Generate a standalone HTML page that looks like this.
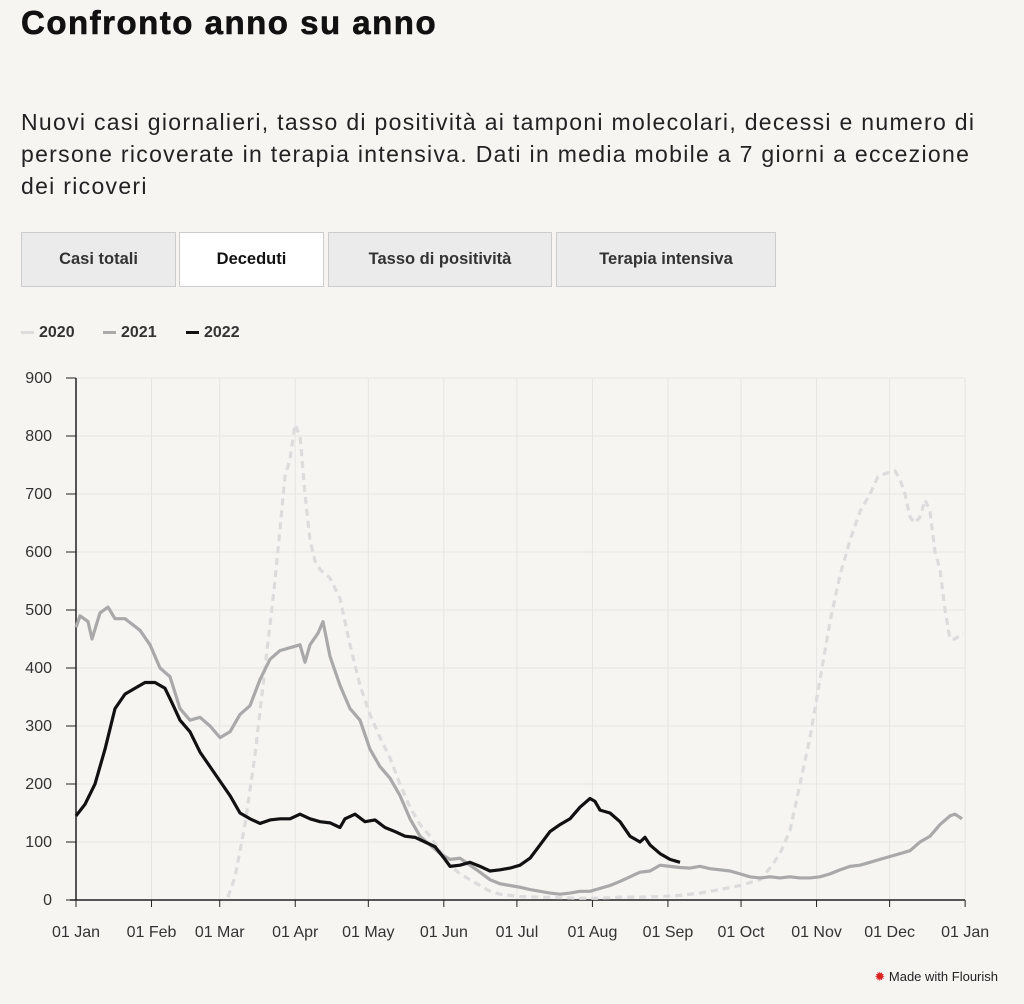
<!DOCTYPE html><html><head><style>
body{margin:0;width:1024px;height:1004px;background:#f6f5f2;font-family:"Liberation Sans",sans-serif;color:#222;overflow:hidden;position:relative}
h1{position:absolute;left:21px;top:4px;margin:0;font-size:33px;font-weight:bold;letter-spacing:1.5px;color:#111;-webkit-text-stroke:0.6px #111}
.sub{position:absolute;left:21px;top:106px;width:1000px;font-size:23px;letter-spacing:1.3px;line-height:32px;color:#222;white-space:nowrap}
.tab{position:absolute;top:232px;height:55px;border:1px solid #ccc;background:#ebebeb;font-size:16.5px;font-weight:bold;color:#333;display:flex;align-items:center;justify-content:center;box-sizing:border-box}
.leg{position:absolute;top:324px;font-size:16px;font-weight:bold;color:#333}
.leg span{display:inline-block;width:13px;height:3px;vertical-align:middle;margin-right:5px}
.mw{position:absolute;right:26px;top:969px;font-size:13px;color:#222}
</style></head><body>
<h1>Confronto anno su anno</h1>
<div class="sub">Nuovi casi giornalieri, tasso di positività ai tamponi molecolari, decessi e numero di<br>persone ricoverate in terapia intensiva. Dati in media mobile a 7 giorni a eccezione<br>dei ricoveri</div>
<div class="tab" style="left:21px;width:155px">Casi totali</div>
<div class="tab" style="left:179px;width:145px;background:#fff;color:#111">Deceduti</div>
<div class="tab" style="left:328px;width:224px">Tasso di positività</div>
<div class="tab" style="left:556px;width:220px">Terapia intensiva</div>
<div class="leg" style="left:21px"><span style="background:#ddd"></span>2020</div>
<div class="leg" style="left:103px"><span style="background:#aaa"></span>2021</div>
<div class="leg" style="left:186px"><span style="background:#111"></span>2022</div>
<svg id="s" width="1024" height="1004" style="position:absolute;left:0;top:0" font-family="Liberation Sans, sans-serif"></svg>
<div class="mw"><span style="color:#d22">✹</span> Made with Flourish</div>
<script>
var s=document.getElementById('s'),h='';
function Y(v){return 900-v*0.58}
for(var i=0;i<=9;i++){var y=Y(i*100);h+='<line x1="76" x2="965" y1="'+y+'" y2="'+y+'" stroke="#e6e5e2"/><line x1="66" x2="76" y1="'+y+'" y2="'+y+'" stroke="#222"/><text x="52" y="'+(y+5)+'" text-anchor="end" font-size="16" fill="#333">'+(i*100)+'</text>';}
var m=['01 Jan','01 Feb','01 Mar','01 Apr','01 May','01 Jun','01 Jul','01 Aug','01 Sep','01 Oct','01 Nov','01 Dec','01 Jan'],d=[0,31,59,90,120,151,181,212,243,273,304,334,365];
for(i=0;i<13;i++){var x=76+d[i]*2.436;h+='<line x1="'+x+'" x2="'+x+'" y1="378" y2="900" stroke="#e6e5e2"/><line x1="'+x+'" x2="'+x+'" y1="900" y2="907" stroke="#222"/><text x="'+x+'" y="937" text-anchor="middle" font-size="16" fill="#333">'+m[i]+'</text>';}
h+='<line x1="76" x2="76" y1="378" y2="900" stroke="#222" stroke-width="1.5"/><line x1="70" x2="965" y1="900" y2="900" stroke="#222" stroke-width="1.5"/>';
function P(a,c,w,da){var p='';for(var k=0;k<a.length;k+=2)p+=(k?'L':'M')+a[k]+' '+Y(a[k+1]);h+='<path d="'+p+'" fill="none" stroke="'+c+'" stroke-width="'+w+'" stroke-linejoin="round"'+(da?' stroke-dasharray="'+da+'"':'')+'/>';}
P([228,5,235,40,245,130,255,250,265,400,275,550,285,730,290,760,295,820,300,800,305,700,310,620,315,585,320,570,330,555,340,520,350,440,360,370,370,320,380,280,390,245,400,200,410,160,420,130,430,110,440,85,450,60,460,45,470,35,480,25,490,15,500,10,510,8,520,6,540,5,560,4,580,3,600,3,620,5,640,5,660,6,680,8,700,12,720,18,740,25,760,35,770,55,780,80,790,120,800,200,810,280,820,380,830,480,840,560,850,620,860,670,870,700,878,730,885,735,895,740,900,725,905,700,910,660,915,650,920,660,925,690,930,670,935,600,940,570,945,500,950,450,955,450,963,460],'#dcdcdc',3.2,'7 5');
P([76,470,80,490,88,480,92,450,100,495,108,505,115,485,125,485,140,465,150,440,160,400,170,385,180,330,190,310,200,315,210,300,220,280,230,290,240,320,250,335,260,380,270,415,280,430,290,435,300,440,305,410,310,440,318,460,323,480,330,420,340,370,350,330,360,310,370,260,380,230,390,210,400,180,410,140,420,110,430,95,440,80,450,70,460,72,470,60,480,48,490,35,500,28,510,25,520,22,530,18,540,15,550,12,560,10,570,12,580,15,590,15,600,20,610,25,620,32,630,40,640,48,650,50,660,60,670,58,680,56,690,55,700,58,710,54,720,52,730,50,740,45,750,40,760,38,770,40,780,38,790,40,800,38,810,38,820,40,830,45,840,52,850,58,860,60,870,65,880,70,890,75,900,80,910,85,920,100,930,110,940,130,950,145,955,148,962,140],'#a9a9a9',3.2);
P([76,145,85,165,95,200,105,260,115,330,125,355,135,365,145,375,155,375,165,365,172,340,180,310,190,290,200,255,210,230,220,205,230,180,240,150,250,140,260,132,270,138,280,140,290,140,300,148,310,140,320,135,330,133,340,125,345,140,355,148,365,135,375,138,385,125,395,118,405,110,415,108,425,100,435,92,445,70,450,58,460,60,470,65,480,58,490,50,500,52,510,55,520,60,530,72,540,95,550,118,560,130,570,140,580,160,590,175,595,170,600,155,610,150,620,135,630,110,640,100,645,108,650,95,660,80,670,70,680,65],'#111',3.2);
s.innerHTML=h;
</script></body></html>
